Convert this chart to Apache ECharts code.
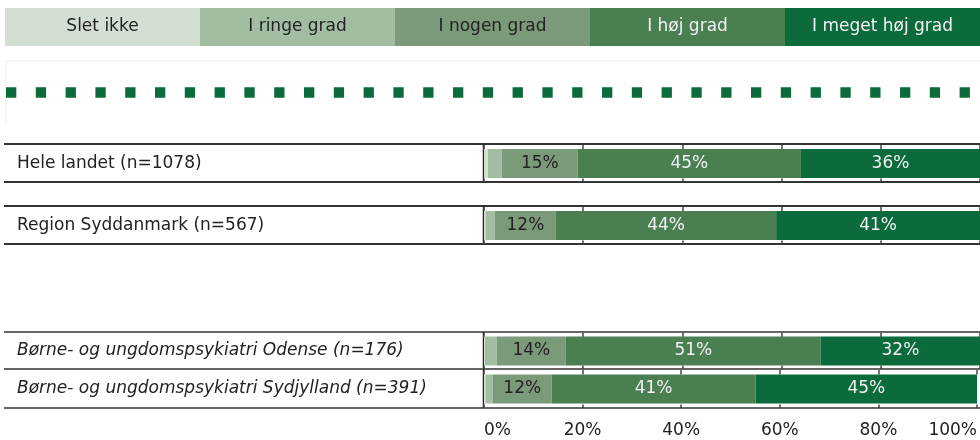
<!DOCTYPE html>
<html>
<head>
<meta charset="utf-8">
<script src="https://cdn.jsdelivr.net/npm/echarts@6/dist/echarts.min.js"></script>
<style>
  html, body { margin: 0; padding: 0; background: #fff; }
  #chart { width: 980px; height: 440px; }
</style>
</head>
<body>
<div id="chart"></div>
<script>
// data
const categories = [
  'Hele landet (n=1078)',
  'Region Syddanmark (n=567)',
  'Børne- og ungdomspsykiatri Odense (n=176)',
  'Børne- og ungdomspsykiatri Sydjylland (n=391)'
]
const italicRows = [false, false, true, true]
const levels = ['Slet ikke', 'I ringe grad', 'I nogen grad', 'I høj grad', 'I meget høj grad']
const sletIkke = [0.8, 0.3, 0.2, 0.3]
const ringeGrad = [2.8, 1.9, 2.4, 1.5]
const nogenGrad = [15.3, 12.3, 13.9, 11.9]
const hojGrad = [45.0, 44.4, 51.4, 41.4]
const megetHojGrad = [36.1, 41.1, 32.1, 44.9]
const xTickValues = [0, 20, 40, 60, 80, 100]

const seriesValues = [sletIkke, ringeGrad, nogenGrad, hojGrad, megetHojGrad]
const levelColors = ['#d3dfd3', '#a3bda3', '#7a9a7a', '#4a7f52', '#0b6b3a']
const levelTextColors = ['#222', '#222', '#222', '#f2f2f2', '#f2f2f2']

// layout
const FONT = 'DejaVu Sans'
const plotLeft = 484
const rowBoxes = [[144, 38], [206, 38], [332, 37], [369, 39]] // top, height
const rowLineColors = ['#333', '#333', '#666', '#666']

const chart = echarts.init(document.getElementById('chart'), null, { renderer: 'canvas' })

const grids = []
const xAxes = []
const yAxes = []
const series = []
const graphics = []

const valueAxis = (i, position, tickLen, showLabels) => ({
  type: 'value',
  gridIndex: i,
  position: position,
  min: xTickValues[0],
  max: xTickValues[xTickValues.length - 1],
  interval: xTickValues[1] - xTickValues[0],
  axisLine: { show: false },
  axisTick: { show: true, inside: true, length: tickLen, lineStyle: { color: '#444', width: 1.5 } },
  splitLine: { show: false },
  axisLabel: {
    show: showLabels,
    formatter: '{value}%',
    margin: 14,
    fontFamily: FONT,
    fontSize: 17,
    color: '#222',
    alignMinLabel: 'left',
    alignMaxLabel: 'right'
  }
})

rowBoxes.forEach(([top, h], i) => {
  grids.push({ left: plotLeft, right: 0, top: top + 1, height: h - 1 })
  // bottom axis carries the bars, top axis only draws the small ticks
  xAxes.push(valueAxis(i, 'bottom', 3.5, i === rowBoxes.length - 1))
  xAxes.push(valueAxis(i, 'top', 4.5, false))
  yAxes.push({
    type: 'category',
    gridIndex: i,
    data: [categories[i]],
    axisLine: { show: false },
    axisTick: { show: false },
    axisLabel: {
      align: 'left',
      margin: plotLeft - 17,
      fontFamily: FONT,
      fontSize: 17,
      fontStyle: italicRows[i] ? 'italic' : 'normal',
      color: '#222'
    }
  })
  levels.forEach((name, k) => {
    series.push({
      name: name,
      type: 'bar',
      xAxisIndex: i * 2,
      yAxisIndex: i,
      stack: 'row' + i,
      barWidth: 29,
      itemStyle: { color: levelColors[k] },
      label: {
        show: true,
        position: 'inside',
        fontFamily: FONT,
        fontSize: 17,
        color: levelTextColors[k],
        formatter: p => (p.value >= 5 ? Math.round(p.value) + '%' : '')
      },
      data: [seriesValues[k][i]]
    })
  })

  // row borders
  const lc = rowLineColors[i]
  graphics.push({ type: 'line', shape: { x1: 4, y1: top, x2: 980, y2: top }, style: { stroke: lc, lineWidth: 2 } })
  graphics.push({ type: 'line', shape: { x1: 4, y1: top + h, x2: 980, y2: top + h }, style: { stroke: lc, lineWidth: 2 } })
  graphics.push({ type: 'line', shape: { x1: plotLeft - 0.5, y1: top, x2: plotLeft - 0.5, y2: top + h }, style: { stroke: '#222', lineWidth: 1.5 } })
})

// legend boxes across the top
const legendLeft = 5
const legendW = (980 - legendLeft) / levels.length
levels.forEach((name, k) => {
  graphics.push({
    type: 'rect',
    shape: { x: legendLeft + k * legendW, y: 8, width: legendW, height: 38 },
    style: { fill: levelColors[k] }
  })
  graphics.push({
    type: 'text',
    x: legendLeft + k * legendW + legendW / 2,
    y: 27,
    style: {
      text: name,
      fill: levelTextColors[k],
      font: '17px "' + FONT + '"',
      align: 'center',
      verticalAlign: 'middle'
    }
  })
})

// faint frame and dotted separator
graphics.push({ type: 'polyline', shape: { points: [[6, 125], [6, 61], [980, 61]] }, style: { stroke: '#eeeeee', lineWidth: 1, fill: null } })
graphics.push({
  type: 'line',
  shape: { x1: 6, y1: 92.5, x2: 980, y2: 92.5 },
  style: { stroke: '#0b6b3a', lineWidth: 10.3, lineDash: [10.3, 19.5] }
})

chart.setOption({
  animation: false,
  backgroundColor: '#fff',
  grid: grids,
  xAxis: xAxes,
  yAxis: yAxes,
  series: series,
  graphic: graphics
})
</script>
</body>
</html>
